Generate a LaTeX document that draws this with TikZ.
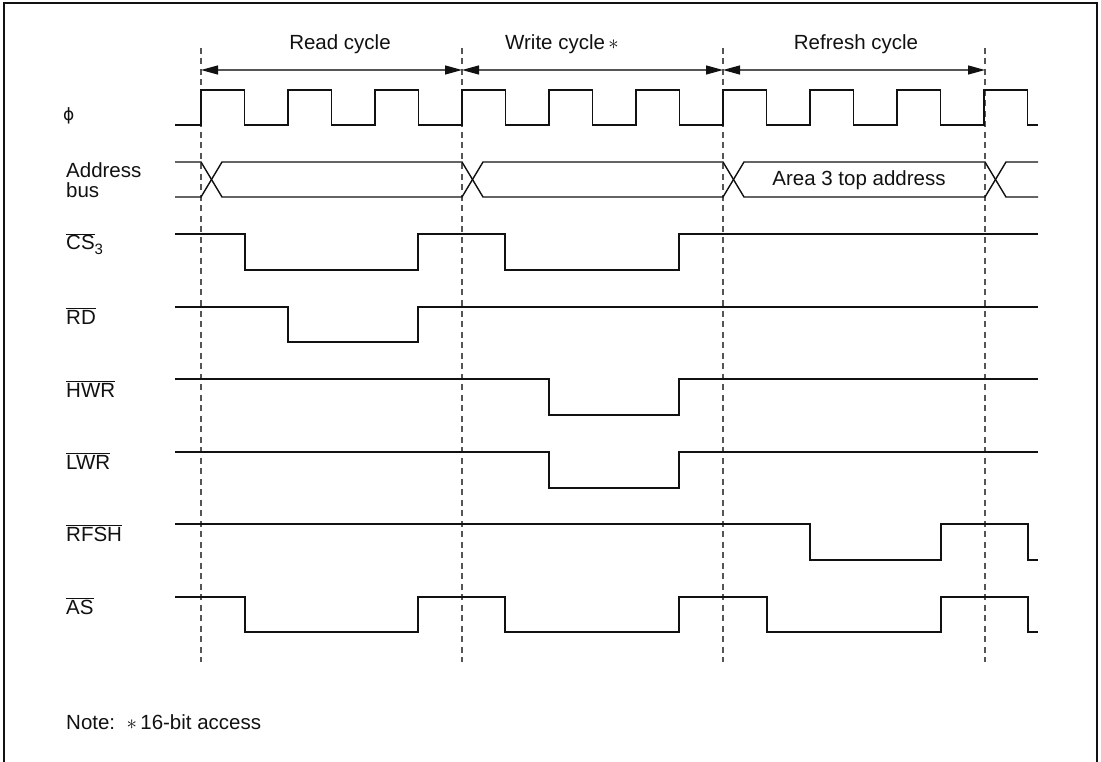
\documentclass[tikz,border=0pt]{standalone}
\usepackage{fontspec}
\setmainfont{Liberation Sans}
\newfontfamily\symf{DejaVu Sans}
\usetikzlibrary{positioning, calc, arrows.meta}
\definecolor{ink}{HTML}{111111}
\definecolor{gridc}{HTML}{555555}
\newcommand{\LabelF}{\fontsize{20.5}{24}\selectfont}
\newcommand{\SubF}{\fontsize{15}{15}\selectfont}
\newcommand{\ovl}[1]{$\overline{\mbox{#1}}$}
\tikzset{
  sig/.style={draw=ink, line width=1.4pt, line join=miter},
  grid/.style={draw=gridc, line width=1.1pt, dash pattern=on 6pt off 4.5pt},
  cyc/.style={draw=gridc, line width=1.2pt,
    {Triangle[length=17pt,width=9pt,fill=ink,color=ink]}-{Triangle[length=17pt,width=9pt,fill=ink,color=ink]}},
  lbl/.style={anchor=west, inner sep=0pt, font=\LabelF, text=ink},
  ttl/.style={inner sep=0pt, font=\LabelF, text=ink}
}

\begin{document}
\begin{tikzpicture}[x=1pt, y=-1pt]
  \useasboundingbox (0,0) rectangle (1101,762);
  % frame
  \draw[ink, line width=2.4pt] (4,762) -- (4,3) -- (1097,3) -- (1097,762);

  % cycle boundaries
  \foreach \i/\x in {0/201, 1/462, 2/723, 3/985} {
    \coordinate (t\i) at (\x,48);
    \coordinate (u\i) at (\x,662);
    \coordinate (a\i) at (\x,70);
    \draw[grid] (t\i) -- (u\i);
  }
  \draw[cyc] (a0) -- (a1);
  \draw[cyc] (a1) -- (a2);
  \draw[cyc] (a2) -- (a3);
  \node[ttl] (readc) at (340,44) {Read cycle};
  \node[ttl] (writec) at (562,44) {Write cycle\,$\ast$};
  \node[ttl] (refc) at (856,44) {Refresh cycle};

  % signal names
  \node[lbl] (phi) at (63,116) {\symf\fontsize{17}{17}\selectfont ϕ};
  \node[lbl] (addr) at (66,170) {Address};
  \node[lbl] (bus) at (66,190) {bus};
  \node[lbl] (cs) at (66,244) {\ovl{CS}\raisebox{-5pt}{\SubF 3}};
  \node[lbl] (rd) at (66,316) {\ovl{RD}};
  \node[lbl] (hwr) at (66,389) {\ovl{HWR}};
  \node[lbl] (lwr) at (66,461) {\ovl{LWR}};
  \node[lbl] (rfsh) at (66,533) {\ovl{RFSH}};
  \node[lbl] (as) at (66,606) {\ovl{AS}};

  % clock
  \draw[sig] (175,125) foreach \k in {0,...,9} {
    -- ({201+87*\k},125) -- ({201+87*\k},90) -- ({244.5+87*\k},90) -- ({244.5+87*\k},125)
  } -- (1038,125);

  % address bus
  \draw[sig] (175,162) -- (201,162) -- (222,197) -- (462,197) -- (483,162) -- (723,162)
    -- (744,197) -- (985,197) -- (1006,162) -- (1038,162);
  \draw[sig] (175,197) -- (201,197) -- (222,162) -- (462,162) -- (483,197) -- (723,197)
    -- (744,162) -- (985,162) -- (1006,197) -- (1038,197);
  \node[ttl] (area) at (859,180) {Area 3 top address};

  % strobes
  \draw[sig] (175,234) -- (245,234) -- (245,270) -- (418,270) -- (418,234) -- (505,234)
    -- (505,270) -- (679,270) -- (679,234) -- (1038,234);
  \draw[sig] (175,307) -- (288,307) -- (288,342) -- (418,342) -- (418,307) -- (1038,307);
  \draw[sig] (175,379) -- (549,379) -- (549,415) -- (679,415) -- (679,379) -- (1038,379);
  \draw[sig] (175,452) -- (549,452) -- (549,488) -- (679,488) -- (679,452) -- (1038,452);
  \draw[sig] (175,524) -- (810,524) -- (810,560) -- (941,560) -- (941,524) -- (1028,524)
    -- (1028,560) -- (1038,560);
  \draw[sig] (175,597) -- (245,597) -- (245,632) -- (418,632) -- (418,597) -- (505,597)
    -- (505,632) -- (679,632) -- (679,597) -- (767,597) -- (767,632) -- (941,632)
    -- (941,597) -- (1028,597) -- (1028,632) -- (1038,632);

  \node[lbl] (note) at (66,722) {Note:\ \ $\ast$\,16-bit access};
\end{tikzpicture}
\end{document}
